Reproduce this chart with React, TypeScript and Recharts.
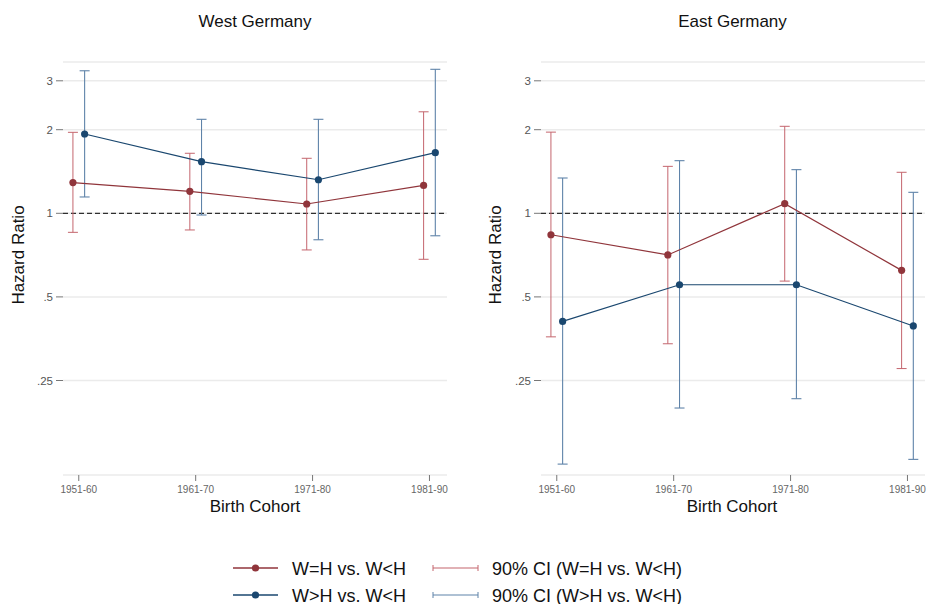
import React from "react";
import {
  ComposedChart,
  Scatter,
  XAxis,
  YAxis,
  CartesianGrid,
  ReferenceLine,
  ErrorBar,
} from "recharts";

// Birth cohorts on the x axis
const cohorts = ["1951-60", "1961-70", "1971-80", "1981-90"];
const yTicks = [0.25, 0.5, 1, 2, 3];

// West Germany: hazard ratios with 90% CI
const westEqual = [1.29, 1.2, 1.08, 1.26];
const westEqualLo = [0.854, 0.871, 0.738, 0.683];
const westEqualHi = [1.957, 1.645, 1.578, 2.32];
const westHigher = [1.93, 1.534, 1.321, 1.653];
const westHigherLo = [1.145, 0.986, 0.803, 0.83];
const westHigherHi = [3.26, 2.18, 2.18, 3.3];

// East Germany
const eastEqual = [0.837, 0.708, 1.083, 0.623];
const eastEqualLo = [0.359, 0.339, 0.57, 0.276];
const eastEqualHi = [1.96, 1.476, 2.057, 1.405];
const eastHigher = [0.408, 0.553, 0.553, 0.393];
const eastHigherLo = [0.125, 0.199, 0.215, 0.13];
const eastHigherHi = [1.34, 1.547, 1.436, 1.19];

const RED = "#90353b";
const BLUE = "#1a476f";
const RED_CI = "#c4656d";
const BLUE_CI = "#5f83a9";
const FONT = "'Liberation Sans', Arial, sans-serif";

const build = (vals: number[], lo: number[], hi: number[], shift: number) =>
  vals.map((v, i) => ({ x: i + 1 + shift, y: v, err: [v - lo[i], hi[i] - v] }));

const Dot = (color: string) => (props: any) =>
  <circle cx={props.cx} cy={props.cy} r={3.6} fill={color} />;

const Empty = () => <g />;

const fmtY = (v: number) => (v < 1 ? String(v).replace(/^0/, "") : String(v));

const Panel = (props: {
  eq: number[]; eqLo: number[]; eqHi: number[];
  hi: number[]; hiLo: number[]; hiHi: number[];
  width: number; yWidth: number; right: number;
}) => {
  const red = build(props.eq, props.eqLo, props.eqHi, -0.05);
  const blue = build(props.hi, props.hiLo, props.hiHi, 0.05);
  return (
    <ComposedChart
      width={props.width}
      height={530}
      margin={{ top: 62, right: props.right, bottom: 15, left: 0 }}
    >
      <CartesianGrid vertical={false} stroke="#ebebeb" strokeWidth={1.5} />
      <XAxis
        type="number"
        dataKey="x"
        domain={[0.865, 4.15]}
        allowDataOverflow
        ticks={[1, 2, 3, 4]}
        tickFormatter={(v: number) => cohorts[v - 1]}
        axisLine={false}
        tickLine={{ stroke: "#777" }}
        tickSize={6}
        tickMargin={5}
        height={40}
        tick={{ fontSize: 10, fill: "#666", fontFamily: FONT }}
      />
      <YAxis
        type="number"
        dataKey="y"
        scale="log"
        domain={[0.1142, 3.506]}
        allowDataOverflow
        ticks={yTicks}
        tickFormatter={fmtY}
        axisLine={false}
        tickLine={{ stroke: "#777" }}
        tickSize={7}
        tickMargin={3}
        width={props.yWidth}
        tick={{ fontSize: 11.5, fill: "#555", fontFamily: FONT }}
      />
      <ReferenceLine y={1} stroke="#000" strokeDasharray="5 3" strokeWidth={1} />
      <Scatter data={red} shape={Empty} isAnimationActive={false}>
        <ErrorBar dataKey="err" direction="y" width={5} stroke={RED_CI} strokeWidth={1} />
      </Scatter>
      <Scatter data={blue} shape={Empty} isAnimationActive={false}>
        <ErrorBar dataKey="err" direction="y" width={5} stroke={BLUE_CI} strokeWidth={1.1} />
      </Scatter>
      <Scatter
        data={red}
        line={{ stroke: RED, strokeWidth: 1.2 }}
        shape={Dot(RED)}
        isAnimationActive={false}
      />
      <Scatter
        data={blue}
        line={{ stroke: BLUE, strokeWidth: 1.2 }}
        shape={Dot(BLUE)}
        isAnimationActive={false}
      />
    </ComposedChart>
  );
};

const App = () => {
  return (
    <div
      style={{
        position: "absolute",
        left: 0,
        top: 0,
        width: 927,
        height: 604,
        background: "#fff",
        fontFamily: FONT,
      }}
    >
      <div style={{ position: "absolute", left: 0, top: 0 }}>
        <Panel
          eq={westEqual} eqLo={westEqualLo} eqHi={westEqualHi}
          hi={westHigher} hiLo={westHigherLo} hiHi={westHigherHi}
          width={470} yWidth={63} right={23}
        />
      </div>
      <div style={{ position: "absolute", left: 470, top: 0 }}>
        <Panel
          eq={eastEqual} eqLo={eastEqualLo} eqHi={eastEqualHi}
          hi={eastHigher} hiLo={eastHigherLo} hiHi={eastHigherHi}
          width={457} yWidth={71} right={2}
        />
      </div>
      <svg
        width={927}
        height={604}
        style={{ position: "absolute", left: 0, top: 0, pointerEvents: "none" }}
        fontFamily={FONT}
      >
        <text x={255} y={27} textAnchor="middle" fontSize={17} fill="#111">West Germany</text>
        <text x={732.5} y={27} textAnchor="middle" fontSize={17} fill="#111">East Germany</text>
        <text x={255} y={512} textAnchor="middle" fontSize={17} fill="#111">Birth Cohort</text>
        <text x={732} y={512} textAnchor="middle" fontSize={17} fill="#111">Birth Cohort</text>
        <text x={23.5} y={255} textAnchor="middle" fontSize={17} fill="#111"
          transform="rotate(-90 23.5 255)">Hazard Ratio</text>
        <text x={500.7} y={255} textAnchor="middle" fontSize={17} fill="#111"
          transform="rotate(-90 500.7 255)">Hazard Ratio</text>

        {/* legend */}
        <line x1={233} x2={278} y1={568} y2={568} stroke={RED} strokeWidth={1.5} />
        <circle cx={255.5} cy={568} r={3.6} fill={RED} />
        <text x={292} y={574.5} fontSize={18} fill="#111">W=H vs. W&lt;H</text>
        <line x1={233} x2={278} y1={595} y2={595} stroke={BLUE} strokeWidth={1.5} />
        <circle cx={255.5} cy={595} r={3.6} fill={BLUE} />
        <text x={292} y={601.5} fontSize={18} fill="#111">W&gt;H vs. W&lt;H</text>

        <line x1={433} x2={478} y1={568} y2={568} stroke={RED_CI} strokeWidth={1.2} />
        <line x1={433} x2={433} y1={565} y2={571} stroke={RED_CI} strokeWidth={1} />
        <line x1={478} x2={478} y1={565} y2={571} stroke={RED_CI} strokeWidth={1} />
        <text x={492} y={574.5} fontSize={18} fill="#111">90% CI (W=H vs. W&lt;H)</text>
        <line x1={433} x2={478} y1={595} y2={595} stroke={BLUE_CI} strokeWidth={1.2} />
        <line x1={433} x2={433} y1={592} y2={598} stroke={BLUE_CI} strokeWidth={1} />
        <line x1={478} x2={478} y1={592} y2={598} stroke={BLUE_CI} strokeWidth={1} />
        <text x={492} y={601.5} fontSize={18} fill="#111">90% CI (W&gt;H vs. W&lt;H)</text>
      </svg>
    </div>
  );
};

export default App;
